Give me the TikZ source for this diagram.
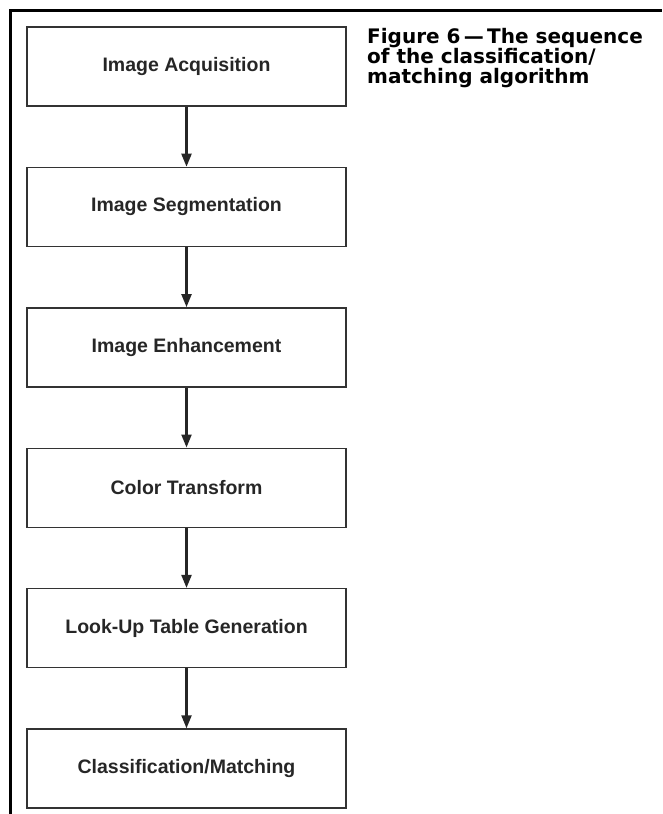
\documentclass[tikz,border=0pt]{standalone}
\usepackage{fontspec}
\setmainfont{Liberation Sans}
\newfontfamily\captionfont{DejaVu Sans}
\usetikzlibrary{positioning,arrows.meta}
\tikzset{
	stage/.style={draw=black!80, line width=1.4pt, minimum width=319pt, minimum height=79pt,
		inner sep=0pt, font=\fontsize{19.5}{21}\selectfont\bfseries, text=black!85},
	flow/.style={line width=2.2pt, draw=black!85, -{Triangle[length=13pt,width=10pt]}},
}
\begin{document}
\begin{tikzpicture}[x=1pt,y=-1pt,node distance=60pt]
	\useasboundingbox (0,0) rectangle (662,814);
	\draw [line width=3pt] (10,814) -- (10,10) -- (662,10);
	\node [stage] (acq) at (186.5,66.5) {Image Acquisition};
	\node [stage, below=of acq] (seg) {Image Segmentation};
	\node [stage, below=of seg] (enh) {Image Enhancement};
	\node [stage, below=of enh] (col) {Color Transform};
	\node [stage, below=of col] (lut) {Look-Up Table Generation};
	\node [stage, below=of lut] (cls) {Classification/Matching};
	\foreach \a/\b in {acq/seg, seg/enh, enh/col, col/lut, lut/cls} {
		\draw [flow] (\a) -- (\b);
	}
	\node [anchor=north west, inner sep=0pt, align=left, font=\captionfont\fontsize{20}{20}\selectfont\bfseries]
		(cap) at (367,28) {Figure 6\,—\,The sequence\\of the classification/\\matching algorithm};
\end{tikzpicture}
\end{document}
